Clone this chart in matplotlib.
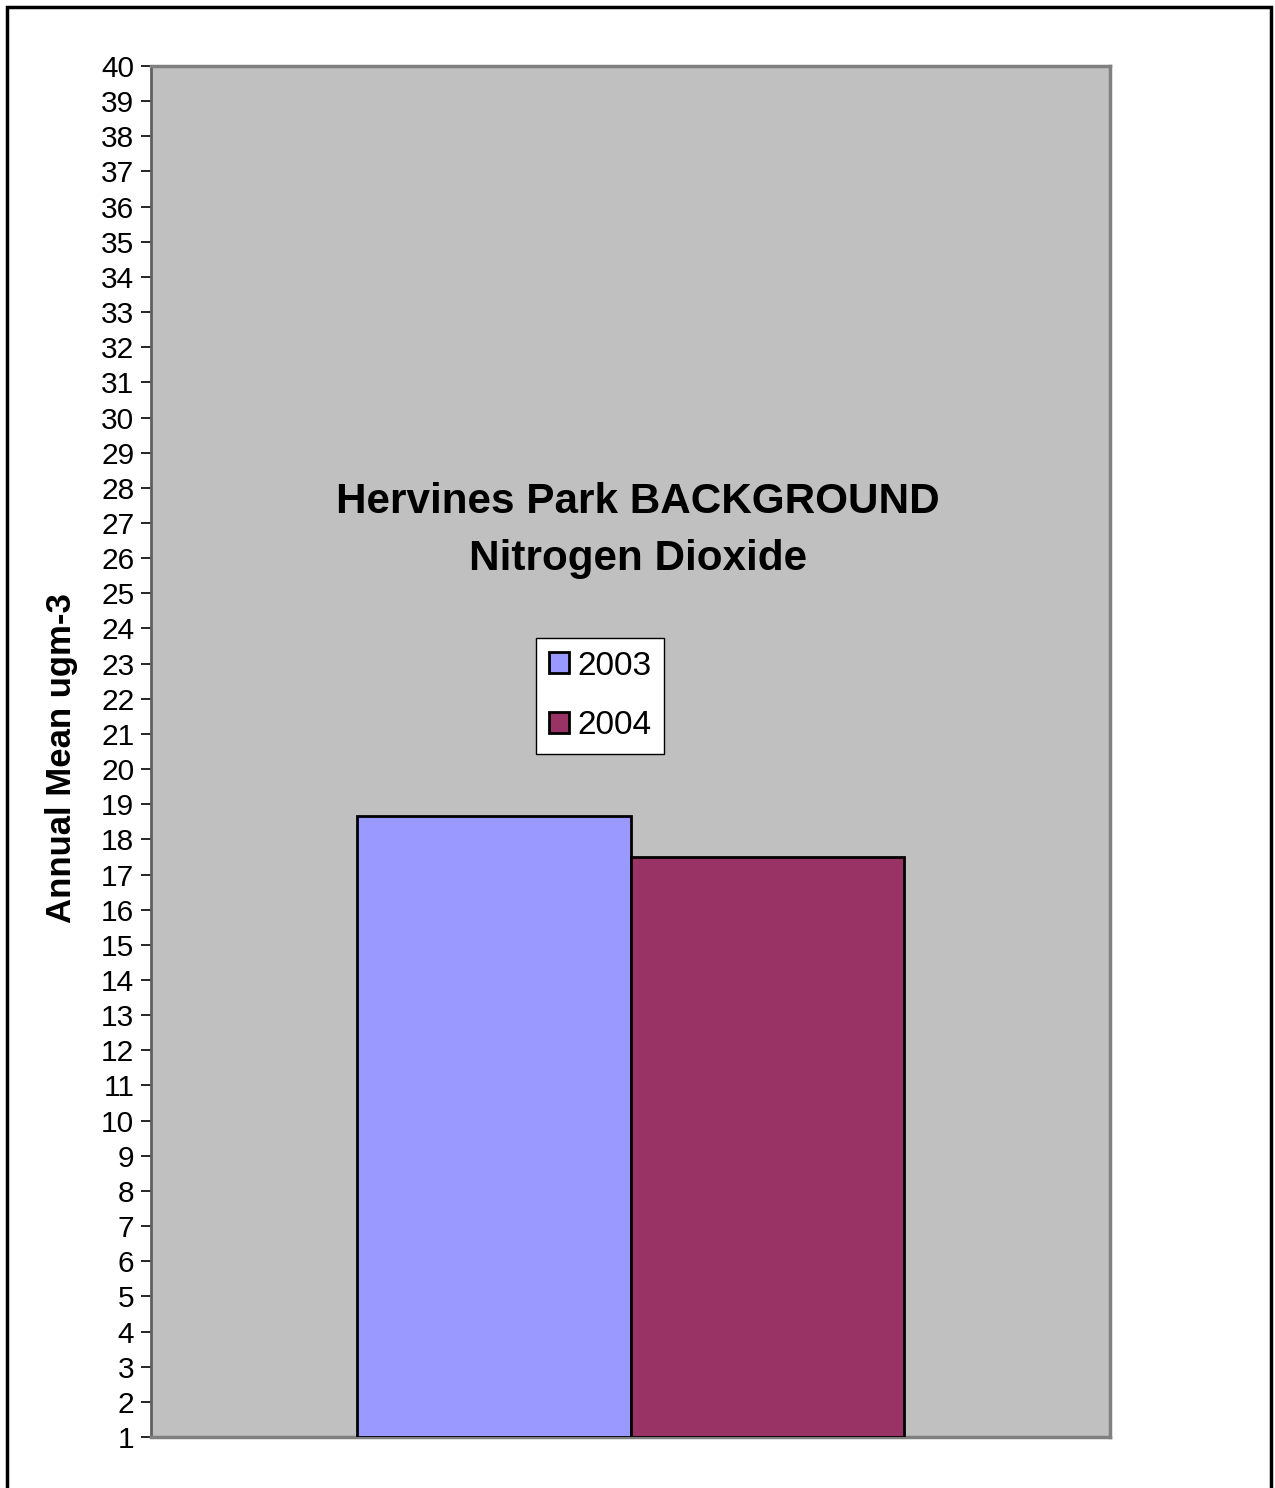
import matplotlib.pyplot as plt
from matplotlib.patches import Rectangle

# Dane
years = ['2003', '2004']
values = [18.67, 17.5]
colors = ['#9999FF', '#993366']
y_ticks = list(range(1, 41))

W, H = 1275, 1488
plt.rcParams['font.family'] = ['Liberation Sans', 'DejaVu Sans']

fig = plt.figure(figsize=(W / 100, H / 100), dpi=100)
ax = fig.add_axes([151 / W, 1 - 1437 / H, (1110 - 151) / W, (1437 - 66) / H])
ax.set_facecolor('#C0C0C0')

bar_w = 0.285
for i, (year, val) in enumerate(zip(years, values)):
    x = (i - 0.5) * bar_w
    ax.bar(x, val - 1, bottom=1, width=bar_w, color=colors[i],
           edgecolor='black', linewidth=2, label=year, zorder=3)

ax.set_xlim(-0.5, 0.5)
ax.set_ylim(1, 40)
ax.set_xticks([])
ax.set_yticks(y_ticks)
ax.tick_params(axis='y', direction='out', length=7, width=1.2, labelsize=21.5, pad=5)

for side in ['top', 'right', 'bottom']:
    ax.spines[side].set_color('#808080')
    ax.spines[side].set_linewidth(2.5)
ax.spines['left'].set_color('#606060')
ax.spines['left'].set_linewidth(2)

ax.set_ylabel('Annual Mean ugm-3', fontsize=25, fontweight='bold')
ax.yaxis.set_label_coords(-0.076, 0.495)

ax.text(0.508, 0.661, 'Hervines Park BACKGROUND\nNitrogen Dioxide', transform=ax.transAxes,
        ha='center', va='center', fontsize=30.4, fontweight='bold', linespacing=1.55)

leg = ax.legend(loc='upper left', bbox_to_anchor=(536 / W, 1 - 638 / H),
                bbox_transform=fig.transFigure, fontsize=24, frameon=True,
                fancybox=False, framealpha=1, handlelength=0.6, handleheight=0.6,
                handletextpad=0.25, labelspacing=0.85, borderpad=0.38,
                borderaxespad=0)
leg.get_frame().set_edgecolor('black')
leg.get_frame().set_facecolor('white')
leg.get_frame().set_linewidth(1)

# Ramka wokół całego wykresu
fig.patches.append(Rectangle((7 / W, -0.05), (1271 - 7) / W, 1.05 - 7 / H,
                             transform=fig.transFigure, fill=False,
                             edgecolor='black', linewidth=2.5))

fig.savefig('out.png', dpi=100)
